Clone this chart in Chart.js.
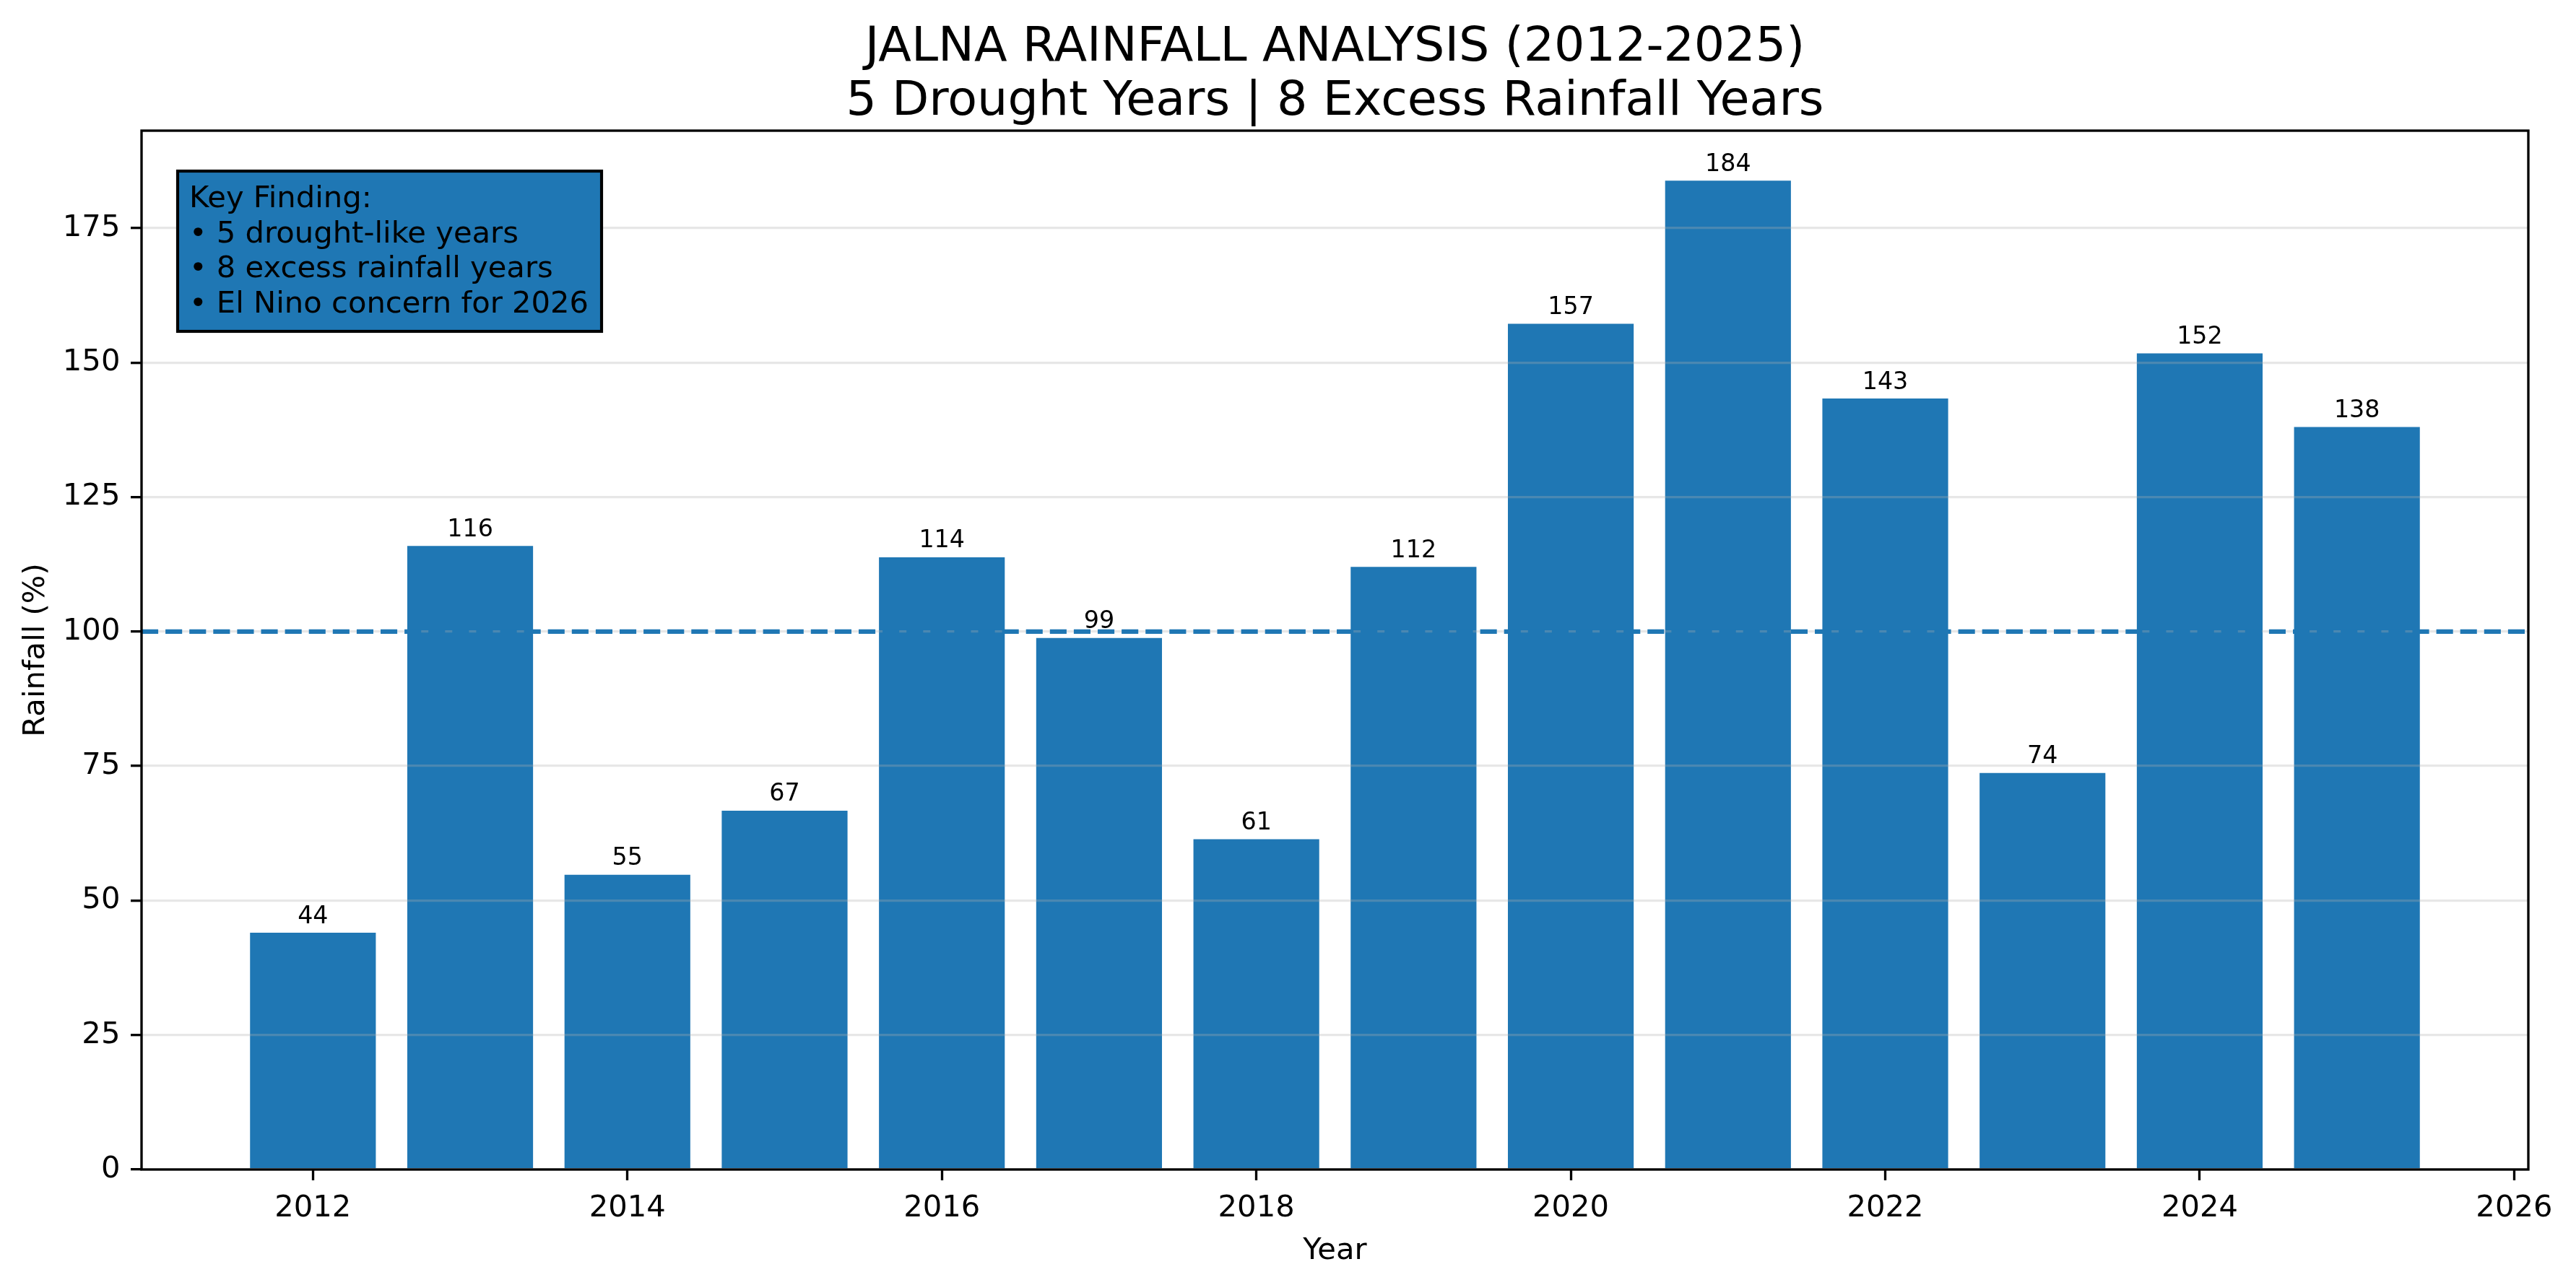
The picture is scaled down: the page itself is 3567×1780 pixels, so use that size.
<!DOCTYPE html>
<html>
<head>
<meta charset="utf-8">
<title>Jalna Rainfall Analysis</title>
<script src="https://cdn.jsdelivr.net/npm/chart.js@4/dist/chart.umd.min.js"></script>
<style>
    html, body { margin: 0; padding: 0; background: #fff; }
    #wrap { width: 3567px; height: 1780px; }
</style>
</head>
<body>
<div id="wrap"><canvas id="rainChart" width="3567" height="1780"></canvas></div>
<script>
(function () {
    'use strict';

    // data
    const years = [2012, 2013, 2014, 2015, 2016, 2017, 2018, 2019, 2020, 2021, 2022, 2023, 2024, 2025];
    const rainfall = [44.0, 115.9, 54.8, 66.7, 113.8, 98.8, 61.4, 112.0, 157.2, 183.8, 143.3, 73.7, 151.7, 138.0];
    const xTicks = [2012, 2014, 2016, 2018, 2020, 2022, 2024, 2026];
    const yTicks = [0, 25, 50, 75, 100, 125, 150, 175];
    const normalLevel = 100;
    const titleLines = ['JALNA RAINFALL ANALYSIS (2012-2025)', '5 Drought Years | 8 Excess Rainfall Years'];
    const noteLines = ['Key Finding:', '\u2022 5 drought-like years', '\u2022 8 excess rainfall years', '\u2022 El Nino concern for 2026'];

    const BLUE = '#1f77b4';
    const FONT = "'DejaVu Sans', sans-serif";

    const overlay = {
        id: 'overlay',
        afterDraw: function (chart) {
            const ctx = chart.ctx;
            const area = chart.chartArea;
            const x = chart.scales.x;
            const y = chart.scales.y;

            ctx.save();

            // title, centred over the axes
            ctx.fillStyle = '#000';
            ctx.textAlign = 'center';
            ctx.textBaseline = 'alphabetic';
            ctx.font = '66.7px ' + FONT;
            const cx = (area.left + area.right) / 2;
            titleLines.forEach(function (line, i) {
                ctx.fillText(line, cx, 84 + i * 75);
            });

            // normal rainfall reference line
            const y100 = y.getPixelForValue(normalLevel);
            ctx.strokeStyle = BLUE;
            ctx.lineWidth = 6.25;
            ctx.setLineDash([23.1, 10]);
            ctx.beginPath();
            ctx.moveTo(area.left, y100);
            ctx.lineTo(area.right, y100);
            ctx.stroke();
            ctx.setLineDash([]);

            // frame
            ctx.strokeStyle = '#000';
            ctx.lineWidth = 3.33;
            ctx.strokeRect(area.left, area.top, area.right - area.left, area.bottom - area.top);

            // value labels
            ctx.font = '33.3px ' + FONT;
            ctx.textAlign = 'center';
            years.forEach(function (yr, i) {
                const px = x.getPixelForValue(yr);
                const py = y.getPixelForValue(rainfall[i]);
                ctx.fillText(String(Math.round(rainfall[i])), px, py - 13.5);
            });

            // key finding box
            const bx = area.left + 50;
            const by = area.top + 56;
            ctx.fillStyle = BLUE;
            ctx.fillRect(bx, by, 587, 222);
            ctx.lineWidth = 4.17;
            ctx.strokeRect(bx, by, 587, 222);
            ctx.fillStyle = '#000';
            ctx.textAlign = 'left';
            ctx.font = '41.7px ' + FONT;
            noteLines.forEach(function (line, i) {
                ctx.fillText(line, area.left + 66, by + 50 + i * 48.7);
            });

            ctx.restore();
        }
    };

    document.addEventListener('DOMContentLoaded', function () {
        const canvas = document.getElementById('rainChart');

        new Chart(canvas, {
            type: 'bar',
            data: {
                datasets: [{
                    label: 'Rainfall (%)',
                    data: years.map(function (yr, i) { return { x: yr, y: rainfall[i] }; }),
                    backgroundColor: BLUE,
                    borderWidth: 0,
                    categoryPercentage: 1,
                    barPercentage: 0.8
                }]
            },
            options: {
                responsive: false,
                devicePixelRatio: 1,
                animation: false,
                layout: {
                    padding: { top: 181, right: 66, bottom: 0, left: 0 }
                },
                plugins: {
                    legend: { display: false },
                    tooltip: { enabled: false },
                    title: { display: false }
                },
                scales: {
                    x: {
                        type: 'linear',
                        min: 2010.91,
                        max: 2026.09,
                        offset: false,
                        afterBuildTicks: function (scale) {
                            scale.ticks = xTicks.map(function (v) { return { value: v }; });
                        },
                        afterFit: function (scale) { scale.height = 160; },
                        grid: {
                            offset: false,
                            drawOnChartArea: false,
                            drawTicks: true,
                            tickLength: 15,
                            tickWidth: 3.33,
                            tickColor: '#000'
                        },
                        border: { display: false },
                        ticks: {
                            color: '#000',
                            padding: 14.6,
                            maxRotation: 0,
                            font: { family: FONT, size: 41.7 },
                            callback: function (v) { return String(v); }
                        },
                        title: {
                            display: true,
                            text: 'Year',
                            color: '#000',
                            font: { family: FONT, size: 41.7 },
                            padding: { top: 0, bottom: 22 }
                        }
                    },
                    y: {
                        min: 0,
                        max: 193.1,
                        afterBuildTicks: function (scale) {
                            scale.ticks = yTicks.map(function (v) { return { value: v }; });
                        },
                        afterFit: function (scale) { scale.width = 196; },
                        grid: {
                            z: 1,
                            color: 'rgba(176,176,176,0.3)',
                            lineWidth: 3.33,
                            drawTicks: true,
                            tickLength: 15,
                            tickWidth: 3.33,
                            tickColor: '#000'
                        },
                        border: { display: false },
                        ticks: {
                            color: '#000',
                            padding: 14.6,
                            font: { family: FONT, size: 41.7 }
                        },
                        title: {
                            display: true,
                            text: 'Rainfall (%)',
                            color: '#000',
                            font: { family: FONT, size: 41.7 },
                            padding: { top: 25, bottom: 0 }
                        }
                    }
                }
            },
            plugins: [overlay]
        });
    });
})();
</script>
</body>
</html>
